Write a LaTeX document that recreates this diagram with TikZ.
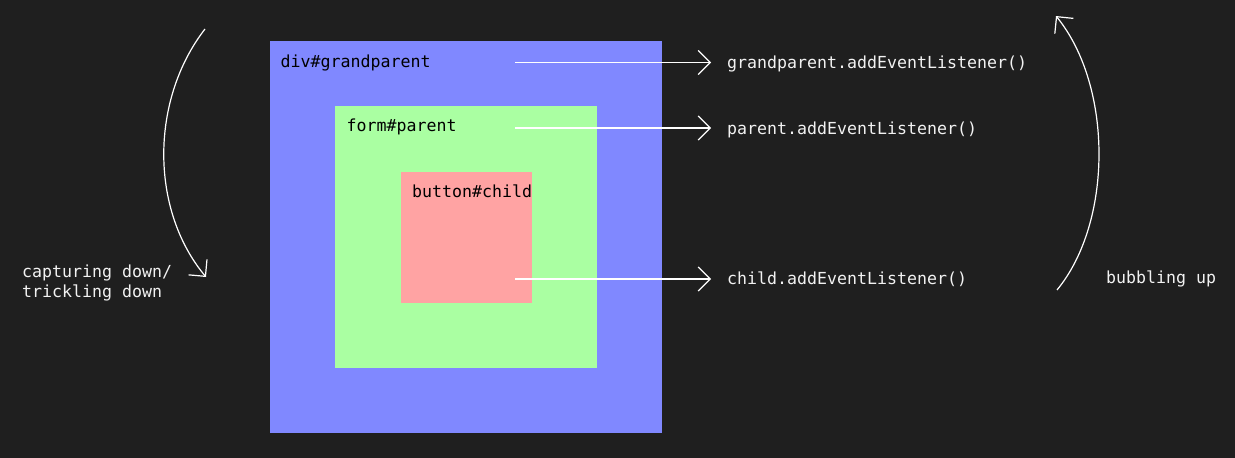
\documentclass[tikz,border=0pt]{standalone}
\usepackage{fontspec}
\newfontfamily\codefont{DejaVu Sans Mono}
\usetikzlibrary{arrows.meta}
\definecolor{bg}{HTML}{1F1F1F}
\definecolor{gpblue}{HTML}{8088FF}
\definecolor{pgreen}{HTML}{AAFFA2}
\definecolor{cred}{HTML}{FFA3A3}
\definecolor{wtext}{HTML}{F2F2F2}
\tikzset{
  box/.style={draw=none, inner sep=0pt, anchor=north west},
  boxlabel/.style={anchor=base west, inner sep=0pt, text=black, font=\codefont\fontsize{16.6}{20}\selectfont},
  wlabel/.style={anchor=base west, inner sep=0pt, text=wtext, font=\codefont\fontsize{16.6}{20}\selectfont},
  arr/.style={draw=white, line width=1.2pt, -{Straight Barb[length=8.5pt, angle=90:17pt, line width=1.2pt]}},
}
\begin{document}
\begin{tikzpicture}[x=1pt,y=-1pt]
\fill[bg] (0,0) rectangle (1235,458);
\useasboundingbox (0,0) rectangle (1235,458);
% boxes
\node[box, fill=gpblue, minimum width=392pt, minimum height=392pt] (gp) at (270,41) {};
\node[box, fill=pgreen, minimum width=262pt, minimum height=262pt] (par) at (335,106) {};
\node[box, fill=cred, minimum width=131pt, minimum height=131pt] (ch) at (401,172) {};
% box labels
\node[boxlabel] (gpl) at (280.5,67) {div\#grandparent};
\node[boxlabel] (parl) at (346.5,131.5) {form\#parent};
\node[boxlabel] (chl) at (412,197) {button\#child};
% listener labels
\node[wlabel] (l1) at (727,68) {grandparent.addEventListener()};
\node[wlabel] (l2) at (727,134) {parent.addEventListener()};
\node[wlabel] (l3) at (727,284) {child.addEventListener()};
% arrow starts
\coordinate (s1) at (515,62.5);
\coordinate (s2) at (515,128);
\coordinate (s3) at (515,279);
\draw[arr, shorten >=16pt] (s1) -- (s1 -| l1.west);
\draw[arr, shorten >=16pt] (s2) -- (s2 -| l2.west);
\draw[arr, shorten >=16pt] (s3) -- (s3 -| l3.west);
% side labels
\node[wlabel, align=left] (cap) at (22,297) {capturing down/\\trickling down};
\node[wlabel] (bub) at (1106,283) {bubbling up};
% curves
\coordinate (c1s) at (205,29);
\coordinate (c1e) at (206,277);
\coordinate (c2s) at (1057,290);
\coordinate (c2e) at (1056,16);
\draw[arr] (c1s) .. controls (150,100) and (150,210) .. (c1e);
\draw[arr] (c2s) .. controls (1113,222) and (1113,86) .. (c2e);
\end{tikzpicture}
\end{document}
